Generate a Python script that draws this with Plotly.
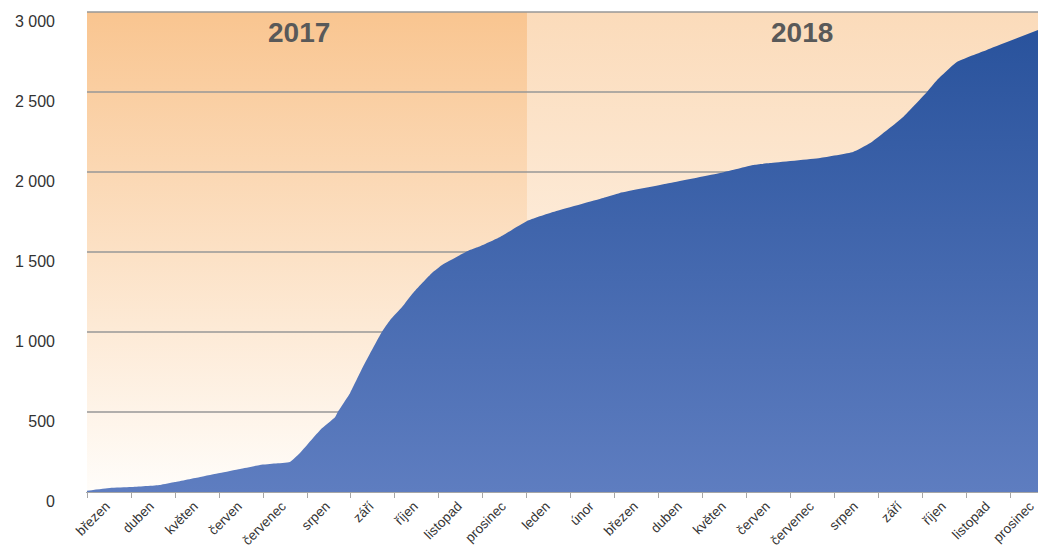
import plotly.graph_objects as go

# ---- data ----
months_2017 = ["březen", "duben", "květen", "červen", "červenec", "srpen",
               "září", "říjen", "listopad", "prosinec"]
months_2018 = ["leden", "únor", "březen", "duben", "květen", "červen",
               "červenec", "srpen", "září", "říjen", "listopad", "prosinec"]
year_labels = ["2017", "2018"]
y_ticks = [0, 500, 1000, 1500, 2000, 2500, 3000]
y_tick_text = ["0", "500", "1 000", "1 500", "2 000", "2 500", "3 000"]

# time in months since start of March 2017, cumulative count
month_pos = [0.00, 0.52, 1.00, 1.66, 2.00, 2.57, 3.02, 3.48, 3.93, 4.27, 4.61,
             4.84, 5.30, 5.64, 5.70, 5.98, 6.27, 6.70, 6.89, 7.16, 7.41, 7.84,
             8.07, 8.70, 8.89, 9.39, 10.00, 10.59, 11.73, 12.11, 13.25, 14.39,
             14.77, 15.14, 15.52, 16.66, 17.41, 17.80, 18.55, 19.09, 19.32,
             19.77, 20.45, 21.64]
cumulative = [8, 25, 31, 44, 62, 94, 119, 144, 169, 178, 188,
              244, 388, 469, 500, 619, 781, 1000, 1075, 1156, 1244, 1369,
              1419, 1512, 1531, 1594, 1694, 1750, 1838, 1869, 1931, 1994,
              2019, 2044, 2056, 2088, 2125, 2181, 2344, 2500, 2575,
              2688, 2763, 2890]

categories = months_2017 + months_2018
n_cat = len(categories)
y_max = max(y_ticks)

fig = go.Figure()

# year background bands (gradient)
bands = [
    (0, len(months_2017), "#F9C590", "#FFFDFA"),
    (len(months_2017), n_cat, "#FBDBBA", "#FFFDFA"),
]
for x0, x1, top, bot in bands:
    fig.add_trace(go.Scatter(
        x=[x0, x1, x1, x0, x0], y=[0, 0, y_max, y_max, 0],
        mode="lines", fill="toself", line=dict(width=0),
        fillgradient=dict(type="vertical", colorscale=[[0, bot], [1, top]],
                          start=0, stop=y_max),
        hoverinfo="skip", showlegend=False))

# horizontal gridlines (above the bands, below the area)
for v in y_ticks[1:]:
    fig.add_trace(go.Scatter(
        x=[0, n_cat], y=[v, v], mode="lines",
        line=dict(color="#979797", width=1.6),
        hoverinfo="skip", showlegend=False))

# cumulative area
fig.add_trace(go.Scatter(
    x=month_pos, y=cumulative, mode="lines", fill="tozeroy",
    line=dict(width=0, shape="spline", smoothing=0.4),
    fillgradient=dict(type="vertical",
                      colorscale=[[0, "#5E7DC0"], [1, "#27519B"]],
                      start=0, stop=y_max),
    hoverinfo="skip", showlegend=False))

# year labels
for txt, xc in zip(year_labels, [4.82, 16.25]):
    fig.add_annotation(x=xc, y=2870, text="<b>%s</b>" % txt, showarrow=False,
                       xanchor="center", yanchor="middle",
                       font=dict(family="Liberation Sans", size=28, color="#595959"))

fig.update_layout(
    width=1038, height=554,
    margin=dict(l=86, r=0, t=10, b=62, autoexpand=False),
    paper_bgcolor="white", plot_bgcolor="white",
    font=dict(family="Liberation Sans", color="#404040"),
    showlegend=False,
    xaxis=dict(
        range=[-0.0227, 21.614], showgrid=False, zeroline=False,
        tickmode="array", tickvals=[i + 0.5 for i in range(n_cat)],
        ticktext=categories, tickangle=-45, ticks="",
        tickfont=dict(size=13.5, color="#333333"),
        ticklabeloverflow="allow", ticklabelshift=-3,
        showline=True, linecolor="#A6A6A6", linewidth=1,
        minor=dict(tickmode="array", tickvals=list(range(n_cat + 1)),
                   ticks="outside", ticklen=5, tickcolor="#A6A6A6",
                   tickwidth=1, showgrid=False),
        automargin=False, fixedrange=True),
    yaxis=dict(
        range=[0, 3012.5], showgrid=False, zeroline=False,
        tickmode="array", tickvals=y_ticks, ticktext=y_tick_text,
        ticks="", tickfont=dict(size=16, color="#333333"),
        ticklabelstandoff=30, ticklabelshift=9,
        automargin=False, fixedrange=True),
)

# remove the default page margin so the figure fills the window exactly
page_fix = ("document.body.style.margin='0';"
            "document.body.style.overflow='hidden';"
            "document.documentElement.style.overflow='hidden';")
fig.write_html("out.html", post_script=page_fix,
               config={"displayModeBar": False, "staticPlot": True})
